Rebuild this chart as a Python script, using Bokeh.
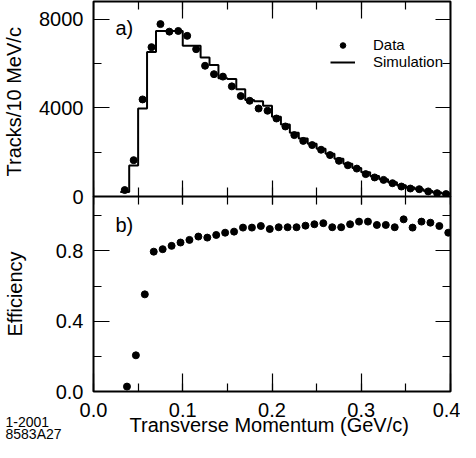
from bokeh.plotting import figure
from bokeh.layouts import column
from bokeh.models import (LinearAxis, Range1d, Legend, LegendItem, Label,
                          SingleIntervalTicker, PrintfTickFormatter)
from bokeh.embed import file_html
from bokeh.resources import INLINE

FONT = "Liberation Sans"

# ---------------- data ----------------
# panel a) : data points at bin centres
pt_x = [0.035, 0.045, 0.055, 0.065, 0.075, 0.085, 0.095, 0.105, 0.115, 0.125,
        0.135, 0.145, 0.155, 0.165, 0.175, 0.185, 0.195, 0.205, 0.215, 0.225,
        0.235, 0.245, 0.255, 0.265, 0.275, 0.285, 0.295, 0.305, 0.315, 0.325,
        0.335, 0.345, 0.355, 0.365, 0.375, 0.385, 0.395]
data_tracks = [290, 1640, 4380, 6740, 7780, 7440, 7470, 7250, 6650, 5900,
               5520, 5410, 4970, 4530, 4320, 3970, 3870, 3520, 3160, 2770,
               2510, 2320, 2110, 1870, 1610, 1410, 1260, 1010, 860, 750,
               600, 450, 360, 330, 230, 150, 110]

# simulation histogram: lower bin edges and contents
sim_lo = [0.03, 0.04, 0.05, 0.06, 0.07, 0.08, 0.09, 0.10, 0.11, 0.12,
          0.13, 0.14, 0.15, 0.16, 0.17, 0.18, 0.19, 0.20, 0.21, 0.22,
          0.23, 0.24, 0.25, 0.26, 0.27, 0.28, 0.29, 0.30, 0.31, 0.32,
          0.33, 0.34, 0.35, 0.36, 0.37, 0.38, 0.39]
sim_hi_last = 0.40
sim_tracks = [200, 1400, 3970, 6520, 7470, 7470, 7470, 6800, 6800, 6270,
              5930, 5340, 5300, 4840, 4350, 4300, 4100, 3600, 3250, 2880,
              2620, 2380, 2150, 1930, 1700, 1480, 1290, 1100, 920, 780,
              640, 510, 410, 330, 250, 180, 130]

# panel b) : efficiency
eff_x = [0.0375, 0.0475, 0.0575, 0.0675, 0.0775, 0.0875, 0.0975, 0.1075, 0.1175, 0.1275,
         0.1375, 0.1475, 0.1575, 0.1675, 0.1775, 0.1875, 0.1975, 0.2075, 0.2175, 0.2275,
         0.2375, 0.2475, 0.2575, 0.2675, 0.2775, 0.2875, 0.2975, 0.3075, 0.3175, 0.3275,
         0.3375, 0.3475, 0.3575, 0.3675, 0.3775, 0.3875, 0.3975]
efficiency = [0.028, 0.206, 0.553, 0.796, 0.810, 0.829, 0.848, 0.863, 0.882, 0.876,
              0.891, 0.904, 0.910, 0.933, 0.933, 0.942, 0.925, 0.935, 0.935, 0.935,
              0.944, 0.952, 0.958, 0.935, 0.935, 0.952, 0.967, 0.967, 0.948, 0.948,
              0.935, 0.980, 0.933, 0.967, 0.961, 0.942, 0.904]

X_MAX = 0.4
Y_TOP_MAX = 8800
Y_BOT_MAX = 1.11
x_ticks_interval = 0.1
y_top_interval = 4000
y_bot_interval = 0.4

FRAME_H = 195
TOTAL_H = 442


def tick_only_axis(p, side, interval, major_in, minor_in, loc):
    # ticks only: labels switched off (no colour -> not drawn, no space taken)
    ax = LinearAxis(ticker=SingleIntervalTicker(interval=interval, num_minor_ticks=2),
                    fixed_location=loc,
                    major_label_text_color=None, major_label_standoff=0,
                    major_tick_out=0, minor_tick_out=0,
                    major_tick_in=major_in, minor_tick_in=minor_in,
                    major_tick_line_color="black", minor_tick_line_color="black",
                    major_tick_line_width=1.2, minor_tick_line_width=1.2,
                    axis_line_color=None)
    p.add_layout(ax, side)
    return ax


def style_main_axis(ax, interval, fmt, label, label_standoff):
    ax.ticker = SingleIntervalTicker(interval=interval, num_minor_ticks=2)
    ax.formatter = PrintfTickFormatter(format=fmt)
    ax.axis_label = label
    ax.axis_label_text_font = FONT
    ax.axis_label_text_font_size = "20px"
    ax.axis_label_text_font_style = "normal"
    ax.axis_label_text_color = "black"
    ax.axis_label_standoff = label_standoff
    ax.major_label_text_font = FONT
    ax.major_label_text_font_size = "20px"
    ax.major_label_text_color = "black"
    ax.major_label_standoff = 10
    ax.major_tick_out = 0
    ax.minor_tick_out = 0
    ax.major_tick_in = 16
    ax.minor_tick_in = 8
    ax.major_tick_line_color = "black"
    ax.minor_tick_line_color = "black"
    ax.major_tick_line_width = 1.2
    ax.minor_tick_line_width = 1.2
    ax.axis_line_color = None


# ---------------- panel a (its canvas spans the whole height) ----------------
p1 = figure(width=460, height=TOTAL_H, x_range=Range1d(0, X_MAX), y_range=Range1d(0, Y_TOP_MAX),
            output_backend="svg", toolbar_location=None,
            x_axis_location=None, y_axis_location="left",
            min_border_left=88, min_border_right=10, min_border_top=1,
            min_border_bottom=TOTAL_H - 1 - FRAME_H)
p1.grid.visible = False
p1.outline_line_color = "black"
p1.outline_line_width = 2
p1.background_fill_color = "white"
p1.border_fill_color = "white"
style_main_axis(p1.yaxis[0], y_top_interval, "%d", "Tracks/10  MeV/c", 11)
tick_only_axis(p1, "above", x_ticks_interval, 17, 8, Y_TOP_MAX)
tick_only_axis(p1, "below", x_ticks_interval, 16, 9, 0)
tick_only_axis(p1, "right", y_top_interval, 15, 8, X_MAX)

step_x = sim_lo + [sim_hi_last]
step_y = sim_tracks + [sim_tracks[-1]]
r_sim = p1.step(step_x, step_y, mode="after", line_color="black", line_width=2)
r_data = p1.scatter(pt_x, data_tracks, size=7, color="black")

legend = Legend(items=[LegendItem(label="Data", renderers=[r_data]),
                       LegendItem(label="Simulation", renderers=[r_sim])],
                location=(237, 126), orientation="vertical",
                border_line_color=None, background_fill_alpha=0,
                label_text_font=FONT, label_text_font_size="15px", label_text_color="black",
                glyph_width=25, glyph_height=14, label_height=14, label_standoff=18,
                spacing=0, padding=0, margin=0)
p1.add_layout(legend)
p1.add_layout(Label(x=22, y=169, x_units="screen", y_units="screen", text="a)",
                    text_font=FONT, text_font_size="20px", text_color="black",
                    text_baseline="alphabetic"))
# footnote lives in the bottom side panel of p1 (not clipped to the frame)
p1.add_layout(Label(x=-88, y=-188, x_units="screen", y_units="screen",
                    text="1-2001\n8583A27", text_line_height=0.8,
                    text_font=FONT, text_font_size="14px", text_color="black",
                    text_baseline="top", text_align="left"), "below")

# ---------------- panel b (overlaps p1's lower border) ----------------
p2 = figure(width=460, height=TOTAL_H - FRAME_H - 1, x_range=p1.x_range,
            y_range=Range1d(0, Y_BOT_MAX),
            output_backend="svg", toolbar_location=None,
            x_axis_location="below", y_axis_location="left",
            min_border_left=88, min_border_right=10, min_border_top=0, min_border_bottom=51,
            styles={"margin-top": "-%dpx" % (TOTAL_H - FRAME_H - 1)})
p2.grid.visible = False
p2.outline_line_color = "black"
p2.outline_line_width = 2
p2.background_fill_color = "white"
p2.border_fill_alpha = 0
style_main_axis(p2.yaxis[0], y_bot_interval, "%.1f", "Efficiency", 27)
style_main_axis(p2.xaxis[0], x_ticks_interval, "%.1f", "Transverse Momentum  (GeV/c)", -6)
p2.xaxis[0].major_tick_in = 18
p2.xaxis[0].major_label_standoff = 11
tick_only_axis(p2, "above", x_ticks_interval, 8, 8, Y_BOT_MAX)
tick_only_axis(p2, "right", y_bot_interval, 15, 8, X_MAX)

p2.scatter(eff_x, efficiency, size=7, color="black")
p2.add_layout(Label(x=22, y=167, x_units="screen", y_units="screen", text="b)",
                    text_font=FONT, text_font_size="20px", text_color="black",
                    text_baseline="alphabetic"))

layout = column(p1, p2, spacing=0)
open("out.html", "w").write(file_html(layout, INLINE))
